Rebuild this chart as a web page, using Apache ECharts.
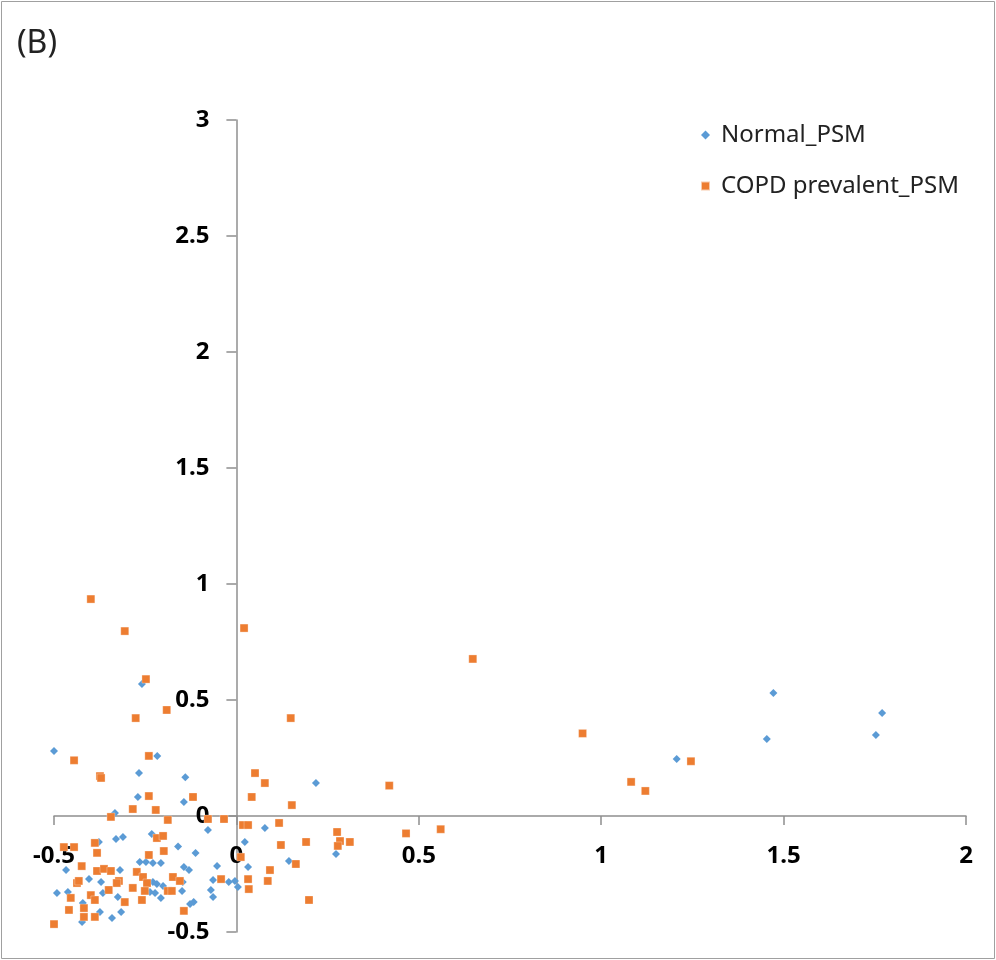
<!DOCTYPE html>
<html>
<head>
<meta charset="utf-8">
<script src="https://cdn.jsdelivr.net/npm/echarts@6/dist/echarts.min.js"></script>
<style>
  html, body { margin: 0; padding: 0; background: #fff; }
  #main { width: 996px; height: 960px; }
</style>
</head>
<body>
<div id="main"></div>
<script>
var myChart = echarts.init(document.getElementById('main'));

// 범례 이름
var seriesNames = ['Normal_PSM', 'COPD prevalent_PSM'];

// Normal_PSM (x, y)
var normalX = [-0.259, -0.500, -0.140, -0.217, -0.267, -0.270, -0.144, -0.333, 0.218, -0.078,
    -0.232, 0.078, 0.023, 0.273, 0.144, 0.032, -0.053, -0.064, -0.021, -0.004,
    0.004, -0.070, -0.064, 1.472, 1.770, 1.454, 1.753, 1.207, -0.311, -0.330,
    -0.377, -0.467, -0.160, -0.112, -0.265, -0.248, -0.229, -0.207, -0.144, -0.130,
    -0.218, -0.229, -0.201, -0.147, -0.149, -0.237, -0.223, -0.207, -0.117, -0.127,
    -0.404, -0.371, -0.319, -0.492, -0.462, -0.366, -0.421, -0.374, -0.341, -0.316,
    -0.423, -0.325];
var normalY = [0.569, 0.280, 0.167, 0.259, 0.185, 0.082, 0.060, 0.013, 0.142, -0.060,
    -0.078, -0.052, -0.112, -0.164, -0.194, -0.220, -0.216, -0.276, -0.284, -0.280,
    -0.306, -0.319, -0.349, 0.530, 0.444, 0.332, 0.349, 0.246, -0.091, -0.099,
    -0.112, -0.233, -0.131, -0.159, -0.198, -0.198, -0.203, -0.203, -0.220, -0.233,
    -0.293, -0.284, -0.302, -0.284, -0.323, -0.328, -0.332, -0.353, -0.371, -0.379,
    -0.272, -0.284, -0.233, -0.332, -0.328, -0.332, -0.375, -0.414, -0.440, -0.414,
    -0.457, -0.349];

// COPD prevalent_PSM (x, y)
var copdX = [-0.399, -0.306, 0.021, 0.648, -0.248, -0.191, -0.276, 0.149, 0.949, -0.445,
    -0.240, -0.374, -0.371, 0.051, 0.078, 0.042, 0.152, -0.240, -0.284, -0.119,
    -0.221, -0.188, -0.078, -0.034, -0.344, 0.018, 0.032, 0.117, 0.276, 0.284,
    0.311, 0.278, 0.122, 0.191, 0.012, 0.163, 0.092, 0.032, 0.086, 0.034,
    0.199, -0.042, 0.465, 0.560, 0.419, 1.246, 1.082, 1.121, -0.473, -0.445,
    -0.388, -0.382, -0.424, -0.382, -0.363, -0.344, -0.437, -0.432, -0.322, -0.328,
    -0.350, -0.284, -0.399, -0.388, -0.454, -0.306, -0.459, -0.418, -0.418, -0.388,
    -0.500, -0.240, -0.199, -0.218, -0.201, -0.174, -0.155, -0.188, -0.177, -0.273,
    -0.256, -0.245, -0.251, -0.259, -0.144];
var copdY = [0.935, 0.797, 0.810, 0.677, 0.590, 0.457, 0.422, 0.422, 0.356, 0.240,
    0.259, 0.172, 0.164, 0.185, 0.142, 0.082, 0.047, 0.086, 0.030, 0.082,
    0.026, -0.017, -0.013, -0.013, -0.004, -0.039, -0.039, -0.030, -0.069, -0.108,
    -0.112, -0.129, -0.125, -0.112, -0.177, -0.207, -0.233, -0.272, -0.280, -0.315,
    -0.362, -0.272, -0.075, -0.057, 0.131, 0.236, 0.147, 0.108, -0.134, -0.134,
    -0.116, -0.159, -0.216, -0.237, -0.228, -0.237, -0.289, -0.280, -0.280, -0.289,
    -0.319, -0.310, -0.341, -0.362, -0.353, -0.371, -0.405, -0.397, -0.435, -0.435,
    -0.466, -0.168, -0.151, -0.095, -0.086, -0.263, -0.280, -0.323, -0.323, -0.241,
    -0.263, -0.289, -0.323, -0.362, -0.409];

function pairs(xs, ys) {
    return xs.map(function (x, i) { return [x, ys[i]]; });
}

var axisColor = '#8f8f8f';
var labelFont = 'Noto Sans';

// 축이 0에서 교차하도록 offset 으로 이동 (grid: left 54, width 912 / top 120, height 812)
var yAxisOffset = -912 * 0.5 / 2.5;
var xAxisOffset = -812 * 0.5 / 3.5;

option = {
    backgroundColor: '#fff',
    animation: false,
    title: {
        text: '(B)',
        left: 12,
        top: 23,
        textStyle: { fontFamily: labelFont, fontSize: 32, fontWeight: 'normal', color: '#222' }
    },
    graphic: [{
        type: 'rect',
        shape: { x: 1.5, y: 1.5, width: 993, height: 957 },
        style: { fill: 'none', stroke: '#a0a0a0', lineWidth: 1 },
        silent: true
    }],
    legend: {
        orient: 'vertical',
        left: 695,
        top: 118,
        itemWidth: 9,
        itemHeight: 9,
        itemGap: 27,
        textStyle: { fontFamily: labelFont, fontSize: 24, color: '#222', padding: [0, 0, 0, 6] },
        data: [
            { name: seriesNames[0], icon: 'diamond' },
            { name: seriesNames[1], icon: 'rect' }
        ]
    },
    grid: {
        left: 54,
        right: 30,
        top: 120,
        bottom: 28,
        containLabel: false,
        outerBoundsMode: 'none'
    },
    xAxis: {
        type: 'value',
        position: 'bottom',
        offset: xAxisOffset,
        min: -0.5,
        max: 2,
        interval: 0.5,
        splitLine: { show: false },
        axisLine: { onZero: false, lineStyle: { color: axisColor, width: 1.5 } },
        axisTick: { show: true, length: 9, lineStyle: { color: axisColor, width: 1.5 } },
        axisLabel: { margin: 28, fontFamily: labelFont, fontSize: 24, fontWeight: 'bold', color: '#000' }
    },
    yAxis: {
        type: 'value',
        position: 'left',
        offset: yAxisOffset,
        min: -0.5,
        max: 3,
        interval: 0.5,
        splitLine: { show: false },
        axisLine: { onZero: false, lineStyle: { color: axisColor, width: 1.5 } },
        axisTick: { show: true, length: 10, lineStyle: { color: axisColor, width: 1.5 } },
        axisLabel: { margin: 27, fontFamily: labelFont, fontSize: 24, fontWeight: 'bold', color: '#000' }
    },
    series: [
        {
            name: seriesNames[0],
            type: 'scatter',
            symbol: 'diamond',
            symbolSize: 8,
            itemStyle: { color: '#5B9BD5', opacity: 1 },
            data: pairs(normalX, normalY)
        },
        {
            name: seriesNames[1],
            type: 'scatter',
            symbol: 'rect',
            symbolSize: 8,
            itemStyle: { color: '#ED7D31', opacity: 1, borderColor: 'rgba(255,255,255,0.6)', borderWidth: 0.5 },
            data: pairs(copdX, copdY)
        }
    ]
};
myChart.setOption(option);
</script>
</body>
</html>
